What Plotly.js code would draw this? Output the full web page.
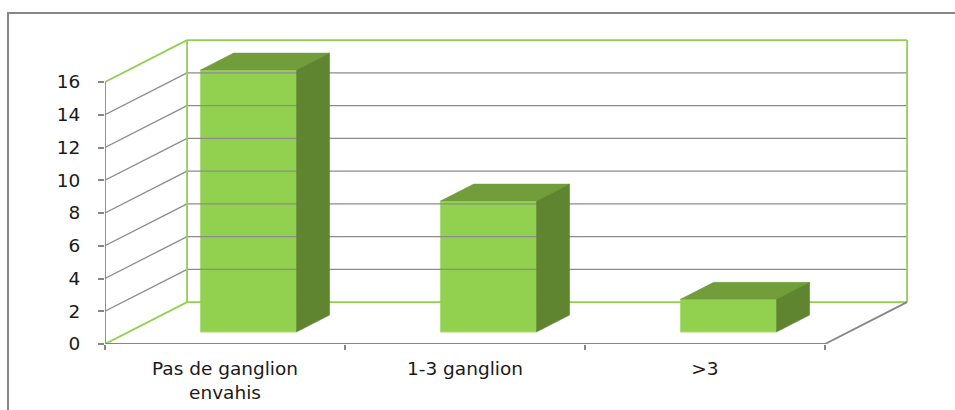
<!DOCTYPE html>
<html>
<head>
<meta charset="utf-8">
<script src="https://cdn.plot.ly/plotly-3.0.1.min.js"></script>
<style>html,body{margin:0;padding:0;background:#fff;}#chart{width:955px;height:410px;}</style>
</head>
<body>
<div id="chart"></div>
<script>
// ---- data ----
const categories = ["Pas de ganglion<br>envahis", "1-3 ganglion", ">3"];
const values = [16, 8, 2];
const yTicks = [0, 2, 4, 6, 8, 10, 12, 14, 16];
const yMax = 16;

// ---- pseudo-3D projection (style constants) ----
const DX = 0.342, DY = 2.56;     // full-depth offset in axis units
const D0 = 0.286, D1 = 0.69;     // bar depth span
const BW = 0.4;                  // bar width
const P = (c, v, d) => [c + d * DX, v + d * DY];

const GRAY = '#868686', GREEN = '#92D050';
const FRONT = '#92D050', TOP = '#719D3A', SIDE = '#5F8531';
const nCat = categories.length;

function seg(list) {
  const x = [], y = [];
  list.forEach(s => { s.forEach(p => { x.push(p[0]); y.push(p[1]); }); x.push(null); y.push(null); });
  return {x, y};
}
const traces = [];
function lineTrace(list, color, width) {
  const s = seg(list);
  traces.push({type: 'scatter', mode: 'lines', x: s.x, y: s.y, line: {color, width}, hoverinfo: 'skip', showlegend: false, xaxis: 'x', yaxis: 'y'});
}

const grayL = [], greenL = [];
yTicks.forEach(v => {
  const list = (v === 0 || v === yMax) ? greenL : grayL;
  list.push([P(0, v, 1), P(nCat, v, 1)]);
  list.push([P(0, v, 0), P(0, v, 1)]);
});
greenL.push([P(0, 0, 1), P(0, yMax, 1)]);
greenL.push([P(nCat, 0, 1), P(nCat, yMax, 1)]);
lineTrace(grayL, '#8c8c8c', 1.3);
lineTrace(greenL, GREEN, 1.8);
lineTrace([[P(nCat, 0, 0), P(nCat, 0, 1)], [P(0, 0, 0), P(nCat, 0, 0)], [P(0, 0, 0), P(0, yMax, 0)]], GRAY, 1.8);

// bars: front faces
traces.push({
  type: 'bar', x: values.map((v, i) => i + 0.5 + D0 * DX), y: values,
  base: values.map(() => D0 * DY), width: BW,
  marker: {color: FRONT, line: {color: '#a9dc78', width: 1}},
  hoverinfo: 'skip', showlegend: false, xaxis: 'x', yaxis: 'y'
});
// top and side faces
values.forEach((v, i) => {
  const xl = i + 0.5 - BW / 2, xr = i + 0.5 + BW / 2;
  const top = [P(xl, v, D0), P(xr, v, D0), P(xr, v, D1), P(xl, v, D1), P(xl, v, D0)];
  const side = [P(xr, 0, D0), P(xr, v, D0), P(xr, v, D1), P(xr, 0, D1), P(xr, 0, D0)];
  [[top, TOP], [side, SIDE]].forEach(([poly, col]) => {
    traces.push({type: 'scatter', mode: 'lines', x: poly.map(p => p[0]), y: poly.map(p => p[1]),
      fill: 'toself', fillcolor: col, line: {color: col, width: 0.5}, hoverinfo: 'skip', showlegend: false, xaxis: 'x', yaxis: 'y'});
  });
});
traces.push({type: 'scatter', mode: 'markers', x: [0], y: [0], marker: {opacity: 0}, xaxis: 'x2', yaxis: 'y', hoverinfo: 'skip', showlegend: false});

const L = 105, R = 40, T = 30, B = 66, W = 955, H = 410;
const xRange = [0, (W - L - R) / 240];
const yRange = [0, (H - T - B) / 16.375];
const font = {family: 'DejaVu Sans, sans-serif', size: 18.5, color: '#1a1a1a'};

const layout = {
  width: W, height: H, margin: {l: L, r: R, t: T, b: B},
  paper_bgcolor: '#fff', plot_bgcolor: 'rgba(0,0,0,0)',
  showlegend: false, barmode: 'overlay', font,
  xaxis: {range: xRange, tickvals: categories.map((c, i) => i + 0.5), ticktext: categories,
    ticks: '', showgrid: false, zeroline: false, showline: false, ticklabelstandoff: 11, tickfont: font, fixedrange: true},
  xaxis2: {range: xRange, overlaying: 'x', anchor: 'y', side: 'bottom', tickvals: [0, 1, 2, 3],
    showticklabels: false, ticks: 'outside', ticklen: 5, tickwidth: 2, tickcolor: GRAY, showgrid: false, zeroline: false, showline: false},
  yaxis: {range: yRange, tickvals: yTicks, ticks: 'outside', ticklen: 6, tickwidth: 2, tickcolor: GRAY,
    showgrid: false, zeroline: false, showline: false, ticklabelstandoff: 14, tickfont: font, fixedrange: true},
  shapes: [{type: 'rect', xref: 'paper', yref: 'paper',
    x0: (8 - L) / (W - L - R), x1: (958 - L) / (W - L - R),
    y0: (H - B - 415) / (H - T - B), y1: (H - B - 13) / (H - T - B),
    line: {color: GRAY, width: 2}, fillcolor: 'rgba(0,0,0,0)', layer: 'below'}]
};
Plotly.newPlot('chart', traces, layout, {staticPlot: true, displayModeBar: false});
</script>
</body>
</html>
